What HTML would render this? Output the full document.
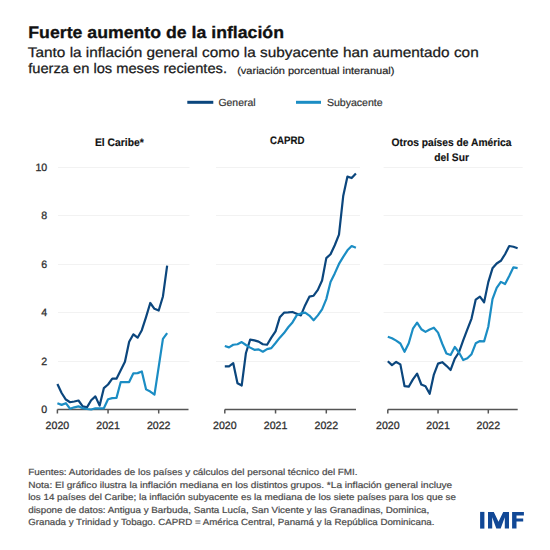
<!DOCTYPE html>
<html><head><meta charset="utf-8"><style>
html,body{margin:0;padding:0;background:#fff;width:550px;height:550px;overflow:hidden}
svg{display:block}
text{font-family:"Liberation Sans",sans-serif;text-rendering:geometricPrecision}
.title{font-size:16.7px;font-weight:bold;fill:#111;stroke:#111;stroke-width:0.3px}
.sub{font-size:13.9px;fill:#1a1a1a;stroke:#1a1a1a;stroke-width:0.25px}
.sm{font-size:9.9px;fill:#222;stroke:#222;stroke-width:0.2px}
.leg{font-size:10.4px;fill:#333;stroke:#333;stroke-width:0.2px}
.pt{font-size:10.9px;font-weight:bold;fill:#111;stroke:#111;stroke-width:0.15px}
.ax{font-size:10.6px;fill:#2e2e2e;stroke:#2e2e2e;stroke-width:0.28px}
.ft{font-size:8.9px;fill:#4a4a4a;stroke:#4a4a4a;stroke-width:0.2px}
</style></head><body>
<svg width="550" height="550" viewBox="0 0 550 550">
<text x="28.3" y="38.2" class="title" textLength="255.7" lengthAdjust="spacingAndGlyphs">Fuerte aumento de la inflación</text>
<text x="27.8" y="56.6" class="sub" textLength="450.9" lengthAdjust="spacingAndGlyphs">Tanto la inflación general como la subyacente han aumentado con</text>
<text x="28.2" y="73.3" class="sub" textLength="198.8" lengthAdjust="spacingAndGlyphs">fuerza en los meses recientes.</text>
<text x="237.2" y="74.2" class="sm" textLength="157.3" lengthAdjust="spacingAndGlyphs">(variación porcentual interanual)</text>
<line x1="187.3" y1="102.3" x2="213.3" y2="102.3" stroke="#0b467d" stroke-width="3"/>
<text x="218.5" y="105.6" class="leg" textLength="37.0" lengthAdjust="spacingAndGlyphs">General</text>
<line x1="296" y1="102.3" x2="321" y2="102.3" stroke="#1b8dc4" stroke-width="3"/>
<text x="326.9" y="105.6" class="leg" textLength="55.8" lengthAdjust="spacingAndGlyphs">Subyacente</text>
<text x="94.9" y="145.5" class="pt" textLength="48.9" lengthAdjust="spacingAndGlyphs">El Caribe*</text>
<text x="270" y="144.3" class="pt" textLength="34.4" lengthAdjust="spacingAndGlyphs">CAPRD</text>
<text x="391.5" y="146.3" class="pt" textLength="120.0" lengthAdjust="spacingAndGlyphs">Otros países de América</text>
<text x="434.2" y="160.6" class="pt" textLength="34.8" lengthAdjust="spacingAndGlyphs">del Sur</text>
<text x="47.2" y="413.30" text-anchor="end" class="ax">0</text>
<text x="47.2" y="364.78" text-anchor="end" class="ax">2</text>
<text x="47.2" y="316.26" text-anchor="end" class="ax">4</text>
<text x="47.2" y="267.74" text-anchor="end" class="ax">6</text>
<text x="47.2" y="219.22" text-anchor="end" class="ax">8</text>
<text x="47.2" y="170.70" text-anchor="end" class="ax">10</text>
<line x1="58" y1="167.50" x2="189.5" y2="167.50" stroke="#f2f2f2" stroke-width="1"/>
<line x1="58" y1="215.50" x2="189.5" y2="215.50" stroke="#f2f2f2" stroke-width="1"/>
<line x1="58" y1="264.50" x2="189.5" y2="264.50" stroke="#f2f2f2" stroke-width="1"/>
<line x1="58" y1="312.50" x2="189.5" y2="312.50" stroke="#f2f2f2" stroke-width="1"/>
<line x1="58" y1="361.50" x2="189.5" y2="361.50" stroke="#f2f2f2" stroke-width="1"/>
<line x1="57.4" y1="409.5" x2="188.5" y2="409.5" stroke="#555" stroke-width="1.5"/>
<line x1="57.40" y1="409.5" x2="57.40" y2="413.5" stroke="#555" stroke-width="1.5"/>
<text x="57.40" y="429" text-anchor="middle" class="ax">2020</text>
<line x1="108.05" y1="409.5" x2="108.05" y2="413.5" stroke="#555" stroke-width="1.5"/>
<text x="108.05" y="429" text-anchor="middle" class="ax">2021</text>
<line x1="158.70" y1="409.5" x2="158.70" y2="413.5" stroke="#555" stroke-width="1.5"/>
<text x="158.70" y="429" text-anchor="middle" class="ax">2022</text>
<polyline points="57.40,384.03 61.62,393.00 65.84,399.55 70.06,402.22 74.28,401.49 78.50,400.52 82.73,406.35 86.95,407.32 91.17,400.28 95.39,396.40 99.61,405.62 103.83,388.15 108.05,384.51 112.27,378.69 116.49,378.69 120.72,370.20 124.94,361.71 129.16,341.81 133.38,334.29 137.60,337.69 141.82,330.17 146.04,317.07 150.26,303.00 154.48,308.82 158.70,310.52 162.93,296.45 167.15,265.64" fill="none" stroke="#0b467d" stroke-width="2.2" stroke-linejoin="round" stroke-linecap="butt"/>
<polyline points="57.40,403.19 61.62,404.89 65.84,403.19 70.06,408.77 74.28,407.32 78.50,406.35 82.73,408.29 86.95,409.01 91.17,409.50 95.39,408.29 99.61,408.29 103.83,408.29 108.05,399.31 112.27,398.10 116.49,397.86 120.72,382.09 124.94,382.09 129.16,382.09 133.38,373.35 137.60,373.11 141.82,371.41 146.04,389.36 150.26,391.55 154.48,394.70 158.70,366.80 162.93,338.90 167.15,333.08" fill="none" stroke="#1b8dc4" stroke-width="2.2" stroke-linejoin="round" stroke-linecap="butt"/>
<line x1="216" y1="167.50" x2="360" y2="167.50" stroke="#f2f2f2" stroke-width="1"/>
<line x1="216" y1="215.50" x2="360" y2="215.50" stroke="#f2f2f2" stroke-width="1"/>
<line x1="216" y1="264.50" x2="360" y2="264.50" stroke="#f2f2f2" stroke-width="1"/>
<line x1="216" y1="312.50" x2="360" y2="312.50" stroke="#f2f2f2" stroke-width="1"/>
<line x1="216" y1="361.50" x2="360" y2="361.50" stroke="#f2f2f2" stroke-width="1"/>
<line x1="224.8" y1="409.5" x2="356" y2="409.5" stroke="#555" stroke-width="1.5"/>
<line x1="224.80" y1="409.5" x2="224.80" y2="413.5" stroke="#555" stroke-width="1.5"/>
<text x="224.80" y="429" text-anchor="middle" class="ax">2020</text>
<line x1="275.55" y1="409.5" x2="275.55" y2="413.5" stroke="#555" stroke-width="1.5"/>
<text x="275.55" y="429" text-anchor="middle" class="ax">2021</text>
<line x1="326.30" y1="409.5" x2="326.30" y2="413.5" stroke="#555" stroke-width="1.5"/>
<text x="326.30" y="429" text-anchor="middle" class="ax">2022</text>
<polyline points="224.80,366.32 229.03,366.32 233.26,363.16 237.49,383.30 241.72,385.48 245.95,352.97 250.17,339.63 254.40,340.36 258.63,341.57 262.86,344.24 267.09,344.73 271.32,337.69 275.55,331.38 279.78,317.31 284.01,312.70 288.24,312.46 292.46,311.97 296.69,313.67 300.92,315.37 305.15,305.18 309.38,296.69 313.61,295.72 317.84,289.90 322.07,280.44 326.30,258.12 330.53,254.24 334.75,245.26 338.98,234.59 343.21,196.01 347.44,176.60 351.67,178.06 355.90,173.45" fill="none" stroke="#0b467d" stroke-width="2.2" stroke-linejoin="round" stroke-linecap="butt"/>
<polyline points="224.80,345.94 229.03,347.39 233.26,344.73 237.49,344.24 241.72,342.06 245.95,344.97 250.17,347.64 254.40,349.82 258.63,349.34 262.86,351.76 267.09,349.09 271.32,348.12 275.55,343.03 279.78,337.69 284.01,333.08 288.24,327.26 292.46,322.41 296.69,315.37 300.92,313.43 305.15,312.70 309.38,315.61 313.61,320.22 317.84,315.37 322.07,309.31 326.30,299.12 330.53,281.89 334.75,273.40 338.98,263.94 343.21,256.90 347.44,250.35 351.67,245.99 355.90,247.69" fill="none" stroke="#1b8dc4" stroke-width="2.2" stroke-linejoin="round" stroke-linecap="butt"/>
<line x1="383.6" y1="167.50" x2="522.7" y2="167.50" stroke="#f2f2f2" stroke-width="1"/>
<line x1="383.6" y1="215.50" x2="522.7" y2="215.50" stroke="#f2f2f2" stroke-width="1"/>
<line x1="383.6" y1="264.50" x2="522.7" y2="264.50" stroke="#f2f2f2" stroke-width="1"/>
<line x1="383.6" y1="312.50" x2="522.7" y2="312.50" stroke="#f2f2f2" stroke-width="1"/>
<line x1="383.6" y1="361.50" x2="522.7" y2="361.50" stroke="#f2f2f2" stroke-width="1"/>
<line x1="387.8" y1="409.5" x2="517.7" y2="409.5" stroke="#555" stroke-width="1.5"/>
<line x1="387.80" y1="409.5" x2="387.80" y2="413.5" stroke="#555" stroke-width="1.5"/>
<text x="387.80" y="429" text-anchor="middle" class="ax">2020</text>
<line x1="438.05" y1="409.5" x2="438.05" y2="413.5" stroke="#555" stroke-width="1.5"/>
<text x="438.05" y="429" text-anchor="middle" class="ax">2021</text>
<line x1="488.30" y1="409.5" x2="488.30" y2="413.5" stroke="#555" stroke-width="1.5"/>
<text x="488.30" y="429" text-anchor="middle" class="ax">2022</text>
<polyline points="387.80,361.22 391.99,365.10 396.18,361.95 400.36,364.38 404.55,386.21 408.74,386.70 412.93,379.42 417.11,373.60 421.30,384.51 425.49,386.21 429.68,393.73 433.86,374.57 438.05,363.65 442.24,362.19 446.43,365.83 450.61,369.96 454.80,358.55 458.99,352.25 463.18,340.36 467.36,329.44 471.55,318.52 475.74,299.60 479.93,296.69 484.11,302.27 488.30,282.13 492.49,268.31 496.68,263.45 500.86,260.79 505.05,254.24 509.24,245.99 513.42,246.72 517.61,248.17" fill="none" stroke="#0b467d" stroke-width="2.2" stroke-linejoin="round" stroke-linecap="butt"/>
<polyline points="387.80,336.72 391.99,338.18 396.18,340.60 400.36,343.51 404.55,351.76 408.74,343.27 412.93,328.71 417.11,322.65 421.30,329.20 425.49,331.87 429.68,329.44 433.86,327.74 438.05,332.60 442.24,343.76 446.43,353.46 450.61,354.92 454.80,346.91 458.99,352.49 463.18,360.01 467.36,358.31 471.55,354.19 475.74,343.27 479.93,341.09 484.11,341.33 488.30,326.77 492.49,299.12 496.68,287.96 500.86,281.89 505.05,284.08 509.24,276.07 513.42,267.34 517.61,268.06" fill="none" stroke="#1b8dc4" stroke-width="2.2" stroke-linejoin="round" stroke-linecap="butt"/>
<text x="28.2" y="475" class="ft" textLength="329.4" lengthAdjust="spacingAndGlyphs">Fuentes: Autoridades de los países y cálculos del personal técnico del FMI.</text>
<text x="28.2" y="487.5" class="ft" textLength="424.0" lengthAdjust="spacingAndGlyphs">Nota: El gráfico ilustra la inflación mediana en los distintos grupos. *La inflación general incluye</text>
<text x="28.2" y="500" class="ft" textLength="427.8" lengthAdjust="spacingAndGlyphs">los 14 países del Caribe; la inflación subyacente es la mediana de los siete países para los que se</text>
<text x="28.2" y="512.5" class="ft" textLength="401.1" lengthAdjust="spacingAndGlyphs">dispone de datos: Antigua y Barbuda, Santa Lucía, San Vicente y las Granadinas, Dominica,</text>
<text x="28.2" y="525" class="ft" textLength="406.2" lengthAdjust="spacingAndGlyphs">Granada y Trinidad y Tobago. CAPRD = América Central, Panamá y la República Dominicana.</text>
<g fill="#114896"><rect x="480.1" y="511.9" width="4.3" height="16.7"/><polygon points="488,511.9 493.8,511.9 498.5,521.8 503.2,511.9 509,511.9 509,528.6 504.8,528.6 504.8,517.2 500.7,528.6 496.3,528.6 492.2,517.2 492.2,528.6 488,528.6"/><polygon points="512.1,511.9 523.9,511.9 523.9,515.4 516.5,515.4 516.5,518.4 523.2,518.4 523.2,521.5 516.5,521.5 516.5,528.6 512.1,528.6"/></g>
</svg></body></html>
